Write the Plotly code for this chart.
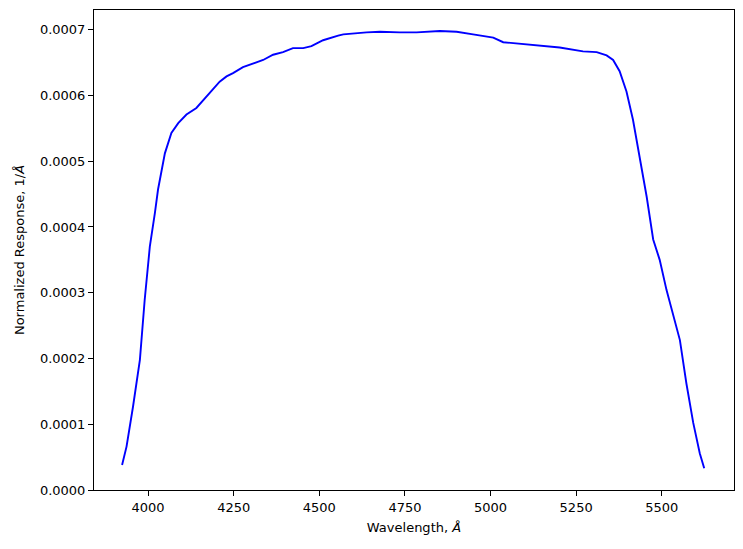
import plotly.graph_objects as go

# filter response curve
wavelength = [3924, 3937, 3956, 3976, 3990, 4005, 4020, 4029, 4049, 4068, 4088, 4112,
              4141, 4180, 4209, 4229, 4248, 4277, 4307, 4336, 4365, 4394, 4423, 4453,
              4477, 4511, 4555, 4570, 4638, 4677, 4735, 4784, 4852, 4901, 4949, 4969,
              4998, 5008, 5037, 5105, 5173, 5202, 5270, 5310, 5339, 5358, 5377, 5397,
              5416, 5436, 5456, 5475, 5494, 5514, 5533, 5553, 5572, 5592, 5611, 5624]
response = [0.000038, 0.000066, 0.000127, 0.000198, 0.000289, 0.000370, 0.000422,
            0.000457, 0.000512, 0.000543, 0.000558, 0.000571, 0.000581, 0.000604,
            0.000621, 0.000629, 0.000634, 0.000643, 0.000648, 0.000654, 0.000662,
            0.000666, 0.000672, 0.000672, 0.000675, 0.000684, 0.000691, 0.000693,
            0.000696, 0.000697, 0.000696, 0.000696, 0.000698, 0.000697, 0.000693,
            0.000691, 0.000688, 0.000688, 0.000681, 0.000678, 0.000675, 0.000673,
            0.000667, 0.000666, 0.000661, 0.000654, 0.000637, 0.000606, 0.000563,
            0.000507, 0.000446, 0.000381, 0.000350, 0.000304, 0.000269, 0.000228,
            0.000162, 0.000102, 0.000056, 0.000033]

x_ticks = [4000, 4250, 4500, 4750, 5000, 5250, 5500]
y_ticks = [0.0, 0.0001, 0.0002, 0.0003, 0.0004, 0.0005, 0.0006, 0.0007]

fig = go.Figure(go.Scatter(x=wavelength, y=response, mode="lines",
                           line=dict(color="blue", width=1.9)))

axis_style = dict(showline=True, linecolor="black", linewidth=1, mirror=True,
                  ticks="outside", ticklen=5, tickcolor="black", showgrid=False,
                  zeroline=False, automargin=False,
                  tickfont=dict(size=13, color="black"))

# the page body adds an 8px margin, so the figure is sized to sit inside it
fig.update_layout(
    width=727, height=533,
    margin=dict(l=86, r=1, t=2, b=51),
    plot_bgcolor="white", paper_bgcolor="white",
    font=dict(family="DejaVu Sans", size=13, color="black"),
    showlegend=False,
    xaxis=dict(range=[3842, 5711], tickvals=x_ticks, tickformat="d",
               title=dict(text="Wavelength, <i>Å</i>", standoff=9,
                          font=dict(size=13)), **axis_style),
    yaxis=dict(range=[0, 0.00073], tickvals=y_ticks, tickformat=".4f",
               title=dict(text="Normalized Response, 1/<i>Å</i>", standoff=12,
                          font=dict(size=13)), **axis_style),
)

fig.write_html("out.html")
